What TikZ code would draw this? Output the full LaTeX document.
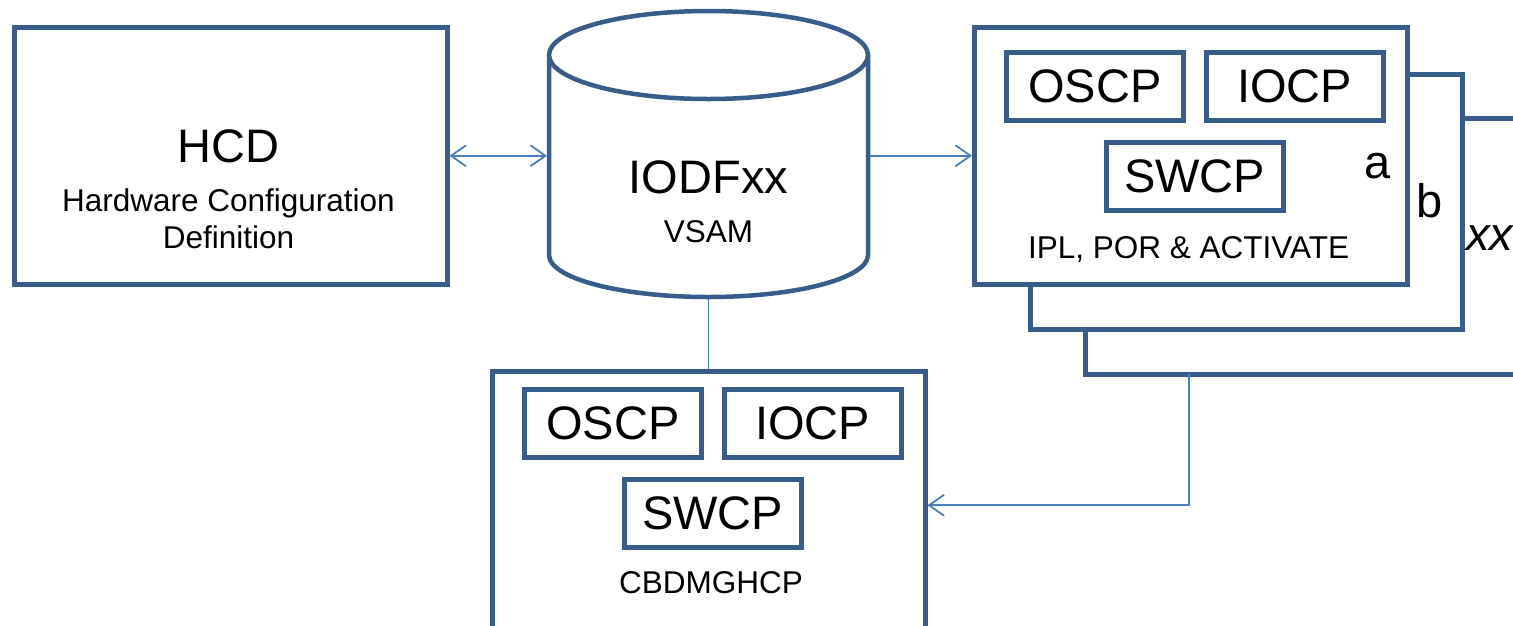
\documentclass[tikz,border=0pt]{standalone}
\usepackage{fontspec}
\setmainfont{Liberation Sans}
\usetikzlibrary{arrows.meta}
\definecolor{boxblue}{HTML}{385D8A}
\definecolor{linkblue}{HTML}{4A7EBB}
\begin{document}
\begin{tikzpicture}[x=1pt,y=-1pt,
  box/.style={draw=boxblue, line width=4.5pt, fill=white, inner sep=0pt, anchor=north west},
  inbox/.style={box, minimum width=177pt, minimum height=68pt, font=\fontsize{47}{50}\selectfont},
  big/.style={font=\fontsize{47}{50}\selectfont, inner sep=0pt, anchor=base},
  mid/.style={font=\fontsize{31.5}{34}\selectfont, inner sep=0pt, anchor=base},
  link/.style={draw=linkblue, line width=1.8pt},
  tip/.style={-{Straight Barb[length=15pt,width=21pt]}},
  tips/.style={{Straight Barb[length=15pt,width=21pt]}-{Straight Barb[length=15pt,width=21pt]}}
]
\useasboundingbox (0,0) rectangle (1513,625);
\clip (0,0) rectangle (1513,625);
\fill[white] (0,0) rectangle (1513,625);

% HCD box
\node[box, minimum width=433pt, minimum height=257pt] (hcd) at (12,25) {};
\node[big] (hcdt) at (228.5,162) {HCD};
\node[mid] (hcds1) at (228.5,211) {Hardware Configuration};
\node[mid] (hcds2) at (228.5,248) {Definition};

% cylinder
\node[inner sep=0pt, outer sep=0pt, minimum width=323pt, minimum height=290pt, anchor=north west] (cyl) at (547,8.5) {};
\fill[white] (549,55) -- (549,255) arc[start angle=180, end angle=360, x radius=159.5pt, y radius=42pt] -- (868,55) -- cycle;
\draw[draw=boxblue, line width=4.5pt] (549,55) -- (549,255) arc[start angle=180, end angle=360, x radius=159.5pt, y radius=42pt] -- (868,55);
\draw[draw=boxblue, line width=4.5pt, fill=white] (708.5,55) ellipse[x radius=159.5pt, y radius=44pt];
\node[big] (iodf) at (708.5,193) {IODFxx};
\node[mid] (vsam) at (708.5,242) {VSAM};

% stacked right boxes
\node[box, minimum width=477pt, minimum height=256pt] (xx) at (1083,116) {};
\node[box, minimum width=432pt, minimum height=255pt] (b) at (1028,72) {};
\node[box, minimum width=433pt, minimum height=257pt] (a) at (972,25) {};
\node[inbox] (oscpa) at (1004,50) {OSCP};
\node[inbox] (iocpa) at (1204,50) {IOCP};
\node[inbox] (swcpa) at (1104,140) {SWCP};
\node[big] (la) at (1378,178) {a};
\node[mid] (ipl) at (1188.5,258) {IPL, POR \& ACTIVATE};
\node[big] (lb) at (1430,217) {b};
\node[big, anchor=base west] (lxx) at (1466,250) {\itshape xx};

% bottom box
\node[box, minimum width=433pt, minimum height=268pt] (bot) at (490,369) {};
\node[inbox] (oscpb) at (522,387) {OSCP};
\node[inbox] (iocpb) at (722,387) {IOCP};
\node[inbox] (swcpb) at (622,477) {SWCP};
\node[mid] (cbd) at (711,593) {CBDMGHCP};

% connectors
\draw[link, tips] (hcd.east) -- (hcd.east -| cyl.west);
\draw[link, tip] (a.west -| cyl.east) -- (a.west);
\draw[link] (cyl.south) -- (cyl.south |- bot.north);
\coordinate (xxout) at (1189,374.25);
\draw[link, tip] (xxout) |- (bot.east);
\end{tikzpicture}
\end{document}
